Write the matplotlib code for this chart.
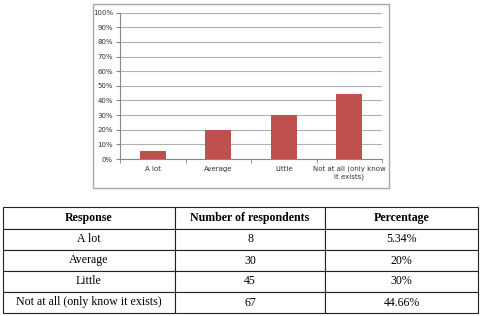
import matplotlib
matplotlib.use("Agg")
import matplotlib.pyplot as plt
from matplotlib.patches import Rectangle
from matplotlib.ticker import FuncFormatter, FixedLocator

categories = ["A lot", "Average", "Little", "Not at all (only know\nit exists)"]
percent = [5.34, 20, 30, 44.66]
y_ticks = [0, 10, 20, 30, 40, 50, 60, 70, 80, 90, 100]

table_header = ["Response", "Number of respondents", "Percentage"]
table_resp = ["A lot", "Average", "Little", "Not at all (only know it exists)"]
table_count = ["8", "30", "45", "67"]
table_pct = ["5.34%", "20%", "30%", "44.66%"]

W, H = 482, 316
fig = plt.figure(figsize=(W / 100, H / 100), dpi=100)
fig.patch.set_facecolor("white")

# chart border
fig.patches.append(Rectangle((93 / W, 1 - 188 / H), 296 / W, 184 / H,
                             transform=fig.transFigure, fill=False,
                             edgecolor="#a6a6a6", linewidth=1.0))

ax = fig.add_axes([120 / W, 1 - 159 / H, 262 / W, (159 - 12.7) / H])
x = list(range(len(categories)))
ax.bar(x, percent, width=0.39, color="#C0504D", zorder=3)
ax.set_xlim(-0.5, len(categories) - 0.5)
ax.set_ylim(0, 100)
ax.set_yticks(y_ticks)
ax.yaxis.set_major_formatter(FuncFormatter(lambda v, p: f"{int(v)}%"))
ax.grid(axis="y", color="#b0b0b0", linewidth=0.8, zorder=0)
for s in ["top", "right"]:
    ax.spines[s].set_visible(False)
ax.spines["left"].set_color("#888888")
ax.spines["bottom"].set_color("#888888")
ax.spines["left"].set_linewidth(0.8)
ax.spines["bottom"].set_linewidth(0.8)
ax.set_xticks(x)
ax.set_xticklabels(categories, fontsize=5, color="#333333", linespacing=1.3)
ax.xaxis.set_minor_locator(FixedLocator([i - 0.5 for i in range(len(categories) + 1)]))
ax.tick_params(axis="x", which="major", length=0, pad=5)
ax.tick_params(axis="x", which="minor", length=3, color="#888888", direction="out")
ax.tick_params(axis="y", length=3, color="#888888", labelsize=5, labelcolor="#333333", pad=2)

# table
tab_ax = fig.add_axes([3 / W, 1 - 313 / H, 475 / W, (313 - 207) / H])
tab_ax.axis("off")
cells = [[r, c, p] for r, c, p in zip(table_resp, table_count, table_pct)]
tbl = tab_ax.table(cellText=cells, colLabels=table_header, cellLoc="center",
                   colWidths=[172 / 475, 150 / 475, 153 / 475],
                   bbox=[0, 0, 1, 1])
tbl.auto_set_font_size(False)
for (r, c), cell in tbl.get_celld().items():
    cell.set_edgecolor("#222222")
    cell.set_linewidth(0.8)
    cell.get_text().set_fontfamily("Liberation Serif")
    cell.get_text().set_fontsize(8.6)
    if r == 0:
        cell.get_text().set_fontweight("bold")
        cell.set_height(22 / 106)
    else:
        cell.set_height(21 / 106)

fig.savefig("out.png", dpi=100, facecolor="white")
